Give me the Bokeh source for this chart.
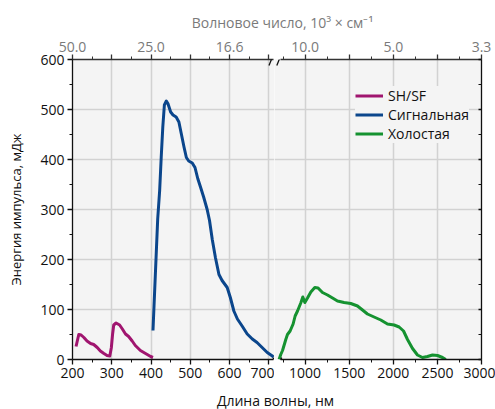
from bokeh.plotting import figure
from bokeh.models import (Range1d, LinearAxis, FixedTicker, Label, Legend, LegendItem, Arrow,
                          CustomLabelingPolicy)
from bokeh.layouts import column, row
from bokeh.embed import file_html
from bokeh.resources import INLINE

FONT = "Open Sans"
BG = "#f4f4f4"
GRID = "#d2d2d2"

# ---- data ----
sh_nm = [209, 216, 222, 229, 237, 246, 254, 263, 271, 280, 288, 295, 299, 302, 305, 311,
         320, 327, 335, 343, 352, 360, 373, 386, 399, 405]
sh_mj = [26, 50, 49, 44, 37, 32, 30, 24, 17, 12, 8, 7, 24, 50, 69, 73,
         69, 61, 51, 46, 37, 28, 18, 12, 6, 4]

sig_nm = [405, 417, 422, 426, 430, 434, 439, 443, 450, 456, 464, 471, 477, 484, 490, 496,
          505, 512, 519, 526, 534, 543, 549, 556, 564, 573, 581, 594, 602, 611, 620, 632,
          645, 658, 670, 683, 696, 709, 712]
sig_mj = [58, 281, 338, 405, 465, 509, 517, 512, 495, 489, 485, 475, 452, 425, 404, 397,
          393, 384, 362, 345, 325, 300, 278, 240, 204, 170, 158, 144, 124, 97, 81, 67,
          51, 41, 34, 24, 14, 7, 5]

idl_nm = [705, 724, 744, 781, 800, 830, 864, 887, 914, 951, 974, 997, 1027, 1065, 1110, 1147,
          1197, 1254, 1311, 1367, 1442, 1518, 1594, 1651, 1707, 1782, 1858, 1934, 2009, 2066,
          2116, 2161, 2218, 2274, 2331, 2388, 2444, 2501, 2558, 2595]
idl_mj = [0, 10, 18, 40, 50, 57, 71, 87, 97, 113, 125, 114, 123, 135, 144, 143,
          134, 129, 123, 117, 114, 112, 107, 99, 91, 85, 79, 71, 69, 65,
          57, 40, 22, 9, 4, 6, 9, 8, 4, 0]

series_names = ["SH/SF", "Сигнальная", "Холостая"]
series_colors = ["#a0156f", "#0b468c", "#159230"]

left_major = [200, 300, 400, 500, 600, 700]
left_minor = [250, 350, 450, 550, 650]
right_major = [1000, 1500, 2000, 2500, 3000]
right_minor = [750, 1250, 1750, 2250, 2750]
y_major = [0, 100, 200, 300, 400, 500, 600]
y_minor = [50, 150, 250, 350, 450, 550]

wn_left_pos = [200, 400, 600]
wn_left_lab = ["50.0", "25.0", "16.6"]
wn_right_pos = [1000, 2000, 3000]
wn_right_lab = ["10.0", "5.0", "3.3"]

top_title = "Волновое число, 10³ × см⁻¹"
bottom_title = "Длина волны, нм"
y_title = "Энергия импульса, мДж"

KEEP_EVEN = CustomLabelingPolicy(code="""
const all = [...indices];
for (const i of all) { if (i % 2 == 1) indices.unset(i); }
return indices;
""")
KEEP_NONE = CustomLabelingPolicy(code="""
const all = [...indices];
for (const i of all) { indices.unset(i); }
return indices;
""")


def style_axis(ax, color="#111111", label_color="#111111"):
    ax.axis_line_color = color
    ax.axis_line_width = 1.3
    ax.major_tick_line_color = color
    ax.minor_tick_line_color = color
    ax.major_tick_line_width = 1.3
    ax.minor_tick_line_width = 1.0
    ax.major_label_text_font = FONT
    ax.major_label_text_font_size = "14px"
    ax.major_label_text_color = label_color
    ax.axis_label_text_font = FONT
    ax.axis_label_text_font_size = "14px"
    ax.axis_label_text_font_style = "normal"
    ax.axis_label_text_color = "#111111"


def make_panel(xr, width, bl, br, major, minor, wn_pos, wn_lab, bounds):
    p = figure(width=width, height=354, x_range=Range1d(*xr), y_range=Range1d(0, 600),
               output_backend="svg", toolbar_location=None,
               min_border_left=bl, min_border_right=br, min_border_top=25, min_border_bottom=29,
               background_fill_color=BG, border_fill_color="white", outline_line_color=None,
               y_axis_location="left" if bl > 0 else None)
    # bottom axis
    xa = p.xaxis[0]
    xa.ticker = FixedTicker(ticks=major, minor_ticks=minor)
    xa.bounds = bounds
    style_axis(xa)
    xa.major_tick_out = 5
    xa.major_tick_in = 0
    xa.minor_tick_out = 3
    xa.minor_tick_in = 0
    xa.major_label_standoff = 3
    # top axis
    ta = LinearAxis(ticker=FixedTicker(ticks=major, minor_ticks=minor), bounds=bounds)
    style_axis(ta, color="#333333", label_color="#7a7a7a")
    ta.major_label_overrides = {pos: lab for pos, lab in zip(wn_pos, wn_lab)}
    ta.major_label_policy = KEEP_EVEN
    ta.major_tick_out = 5
    ta.major_tick_in = 0
    ta.minor_tick_out = 3
    ta.minor_tick_in = 0
    ta.major_label_standoff = 3
    p.add_layout(ta, "above")
    # grids
    p.xgrid.ticker = FixedTicker(ticks=major)
    p.ygrid.ticker = FixedTicker(ticks=y_major)
    p.grid.grid_line_color = GRID
    p.grid.grid_line_width = 1.5
    return p


pl = make_panel((200, 714.5), 274, 72, 0, left_major, left_minor, wn_left_pos, wn_left_lab, (200, 712))
ya = pl.yaxis[0]
ya.ticker = FixedTicker(ticks=y_major, minor_ticks=y_minor)
style_axis(ya)
ya.major_tick_out = 5
ya.major_tick_in = 0
ya.minor_tick_out = 3
ya.minor_tick_in = 0
ya.major_label_standoff = 3
ya.axis_label = y_title
ya.axis_label_text_font_size = "13px"
ya.axis_label_standoff = 12

pr = make_panel((653, 3000), 221, 0, 14, right_major, right_minor, wn_right_pos, wn_right_lab, (725, 3000))
ra = LinearAxis(ticker=FixedTicker(ticks=y_major, minor_ticks=y_minor))
style_axis(ra)
ra.major_label_overrides = {t: "" for t in y_major}
ra.major_label_policy = KEEP_NONE
ra.major_label_standoff = 0
ra.major_tick_in = 3
ra.major_tick_out = 0
ra.minor_tick_in = 3
ra.minor_tick_out = 0
pr.add_layout(ra, "right")

r_sh = pl.line(sh_nm, sh_mj, line_color=series_colors[0], line_width=3, line_join="round")
r_sig = pl.line(sig_nm, sig_mj, line_color=series_colors[1], line_width=3, line_join="round")
r_idl = pr.line(idl_nm, idl_mj, line_color=series_colors[2], line_width=3, line_join="round")

# legend entries for the left-panel series (same styles) live in the right panel
proxy_sh = pr.line([0, 1], [-100, -100], line_color=series_colors[0], line_width=3)
proxy_sig = pr.line([0, 1], [-100, -100], line_color=series_colors[1], line_width=3)
legend = Legend(items=[LegendItem(label=series_names[0], renderers=[proxy_sh]),
                       LegendItem(label=series_names[1], renderers=[proxy_sig]),
                       LegendItem(label=series_names[2], renderers=[r_idl])],
                location=(81, 216), background_fill_color=BG, background_fill_alpha=1.0,
                border_line_color=None, label_text_font=FONT, label_text_font_size="14px",
                label_text_color="#111111", glyph_width=28, glyph_height=19, label_height=19,
                spacing=0, padding=5, margin=0, label_standoff=5)
pr.add_layout(legend, "center")

# axis-break marks
for p, xs in ((pl, (700.5, 713.2)), (pr, (679, 736))):
    for ys in ((-13, 3.6), (588, 612.8)):
        p.add_layout(Arrow(end=None, x_start=xs[0], y_start=ys[0], x_end=xs[1], y_end=ys[1],
                           line_color="#111111", line_width=1.3))


def text_strip(height, text, x, y, color, size):
    f = figure(width=495, height=height, x_range=Range1d(0, 1), y_range=Range1d(0, 1),
               output_backend="svg", toolbar_location=None, x_axis_location=None,
               y_axis_location=None, min_border=0, outline_line_color=None,
               background_fill_color="white", border_fill_color="white")
    f.grid.visible = False
    f.add_layout(Label(x=x, y=y, x_units="screen", y_units="screen", text=text,
                       text_font=FONT, text_font_size=size, text_color=color,
                       text_align="center", text_baseline="middle"))
    return f


header = text_strip(34, top_title, 282, 12, "#7a7a7a", "14px")
footer = text_strip(21, bottom_title, 275, 9, "#111111", "14px")

layout = column(header, row(pl, pr, spacing=0), footer, spacing=0)
open("out.html", "w").write(file_html(layout, INLINE))
